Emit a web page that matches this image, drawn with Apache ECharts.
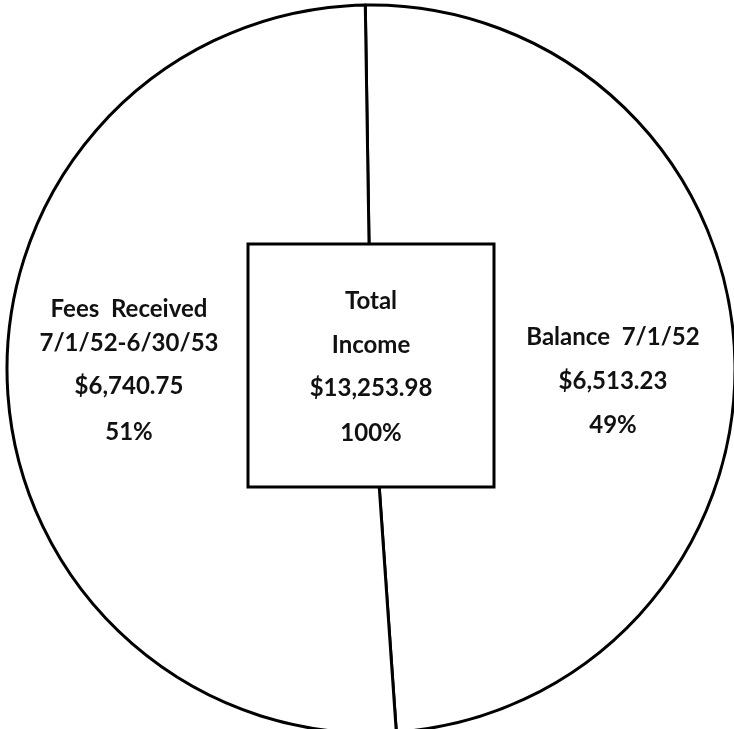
<!DOCTYPE html>
<html>
<head>
<meta charset="utf-8">
<script src="https://cdn.jsdelivr.net/npm/echarts@6/dist/echarts.min.js"></script>
<style>
html,body{margin:0;padding:0;background:#fff;}
#chart{width:734px;height:729px;}
</style>
</head>
<body>
<div id="chart"></div>
<script>
// Data
const sliceNames = ['Balance  7/1/52', 'Fees  Received'];
const sliceSubtitles = ['', '7/1/52-6/30/53'];
const sliceValues = [6513.23, 6740.75];
const sliceValueLabels = ['$6,513.23', '$6,740.75'];
const slicePercents = ['49%', '51%'];
const centerLines = ['Total', 'Income', '$13,253.98', '100%'];

const FONT = 'Lato, "DejaVu Sans", sans-serif';
const FS = 24;
const chart = echarts.init(document.getElementById('chart'), null, {renderer: 'canvas'});

const labelPos = [
  {x: 613, y: 381},
  {x: 129, y: 373}
];

function fmt(p) {
  const i = p.dataIndex;
  if (sliceSubtitles[i]) {
    return '{l1|' + sliceNames[i] + '}\n{l2|' + sliceSubtitles[i] + '}\n{l3|' + sliceValueLabels[i] + '}\n{l4|' + slicePercents[i] + '}';
  }
  return '{r|' + sliceNames[i] + '}\n{r|' + sliceValueLabels[i] + '}\n{r|' + slicePercents[i] + '}';
}

const txt = {fontFamily: FONT, fontSize: FS, fontWeight: 'bold', color: '#111', align: 'center'};

const boxX = 248, boxY = 244, boxW = 246, boxH = 243;
const graphics = [{
  type: 'rect',
  z: 100,
  shape: {x: boxX, y: boxY, width: boxW, height: boxH},
  style: {fill: '#fff', stroke: '#000', lineWidth: 3}
}];
const lineYs = [301, 345, 388, 433];
centerLines.forEach((t, k) => {
  graphics.push({
    type: 'text', z: 101,
    x: boxX + boxW / 2, y: lineYs[k],
    style: {text: t, font: 'bold ' + FS + 'px ' + FONT, fill: '#111', textAlign: 'center', textVerticalAlign: 'middle'}
  });
});

chart.setOption({
  animation: false,
  backgroundColor: '#fff',
  series: [{
    type: 'pie',
    center: [371, 369],
    radius: [0, 364],
    startAngle: 90.9,
    clockwise: true,
    silent: true,
    avoidLabelOverlap: false,
    emphasis: {disabled: true},
    itemStyle: {color: '#fff', borderColor: '#000', borderWidth: 3},
    labelLine: {show: false},
    label: {
      show: true,
      position: 'inside',
      formatter: fmt,
      rich: {
        l1: Object.assign({lineHeight: 32}, txt),
        l2: Object.assign({lineHeight: 36}, txt),
        l3: Object.assign({lineHeight: 50}, txt),
        l4: Object.assign({lineHeight: 42}, txt),
        r: Object.assign({lineHeight: 44}, txt)
      }
    },
    labelLayout: function (params) {
      const p = labelPos[params.dataIndex];
      return {x: p.x, y: p.y, align: 'center', verticalAlign: 'middle'};
    },
    data: sliceNames.map((n, i) => ({name: n, value: sliceValues[i]}))
  }],
  graphic: graphics
});
</script>
</body>
</html>
